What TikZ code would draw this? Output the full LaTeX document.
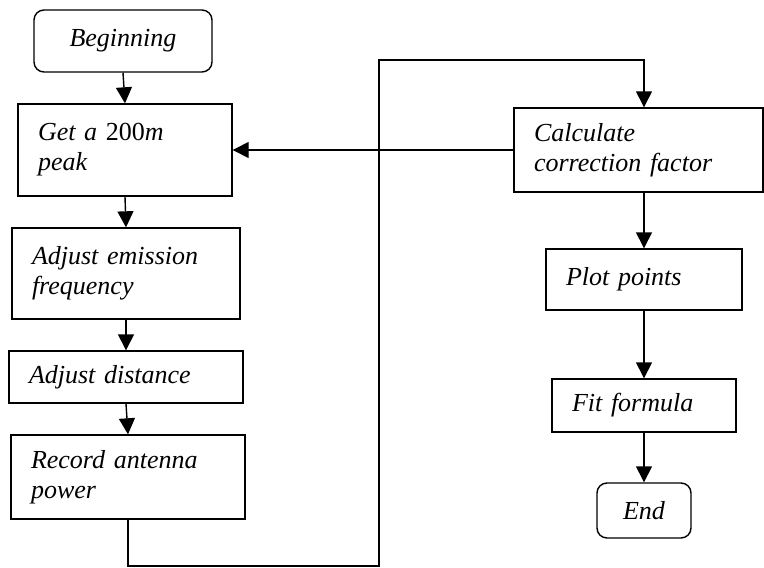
\documentclass[tikz,border=0pt]{standalone}
\usepackage{fontspec}
\setmainfont{Liberation Serif}
\usetikzlibrary{arrows.meta}
\begin{document}
\begin{tikzpicture}[x=1pt,y=-1pt,
  every node/.style={font=\fontsize{26}{30}\selectfont\itshape},
  box/.style={draw,line width=1.4pt,inner xsep=20pt,inner ysep=0pt,align=left},
  term/.style={draw,line width=1.4pt,rounded corners=10pt,align=center},
  flow/.style={line width=1.4pt,-{Triangle[length=16pt,width=16pt]}}]
\useasboundingbox (0,0) rectangle (764,568);
\node[term,minimum width=178pt,minimum height=62pt] (beg) at (123,41) {Beginning};
\node[box,text width=174pt,minimum height=92pt] (get) at (125,150) {Get a {\upshape 200}m\\peak};
\node[box,text width=188pt,minimum height=91pt] (emi) at (126,273.5) {Adjust emission\\frequency};
\node[box,text width=194pt,minimum height=52pt] (dist) at (126,377) {Adjust distance};
\node[box,text width=194pt,minimum height=84pt] (rec) at (128,477) {Record antenna\\power};
\node[box,text width=209pt,minimum height=84pt] (calc) at (638.5,150) {Calculate\\correction factor};
\node[box,text width=156pt,minimum height=61pt] (plot) at (644,279.5) {Plot points};
\node[box,text width=144pt,minimum height=53pt] (fit) at (644,405.5) {Fit formula};
\node[term,minimum width=94pt,minimum height=55pt] (end) at (644,510.5) {End};
\coordinate (k1) at (379,566);
\coordinate (k2) at (379,60);
\draw[flow] (beg.south) -- (get.north);
\draw[flow] (get.south) -- (emi.north);
\draw[flow] (emi.south) -- (dist.north);
\draw[flow] (dist.south) -- (rec.north);
\draw[flow] (rec.south) |- (k1) -- (k2) -| ([xshift=5.5pt]calc.north);
\draw[flow] (calc.west) -- (get.east |- calc.west);
\draw[flow] (calc.south -| plot.north) -- (plot.north);
\draw[flow] (plot.south) -- (fit.north);
\draw[flow] (fit.south) -- (end.north);
\end{tikzpicture}
\end{document}
